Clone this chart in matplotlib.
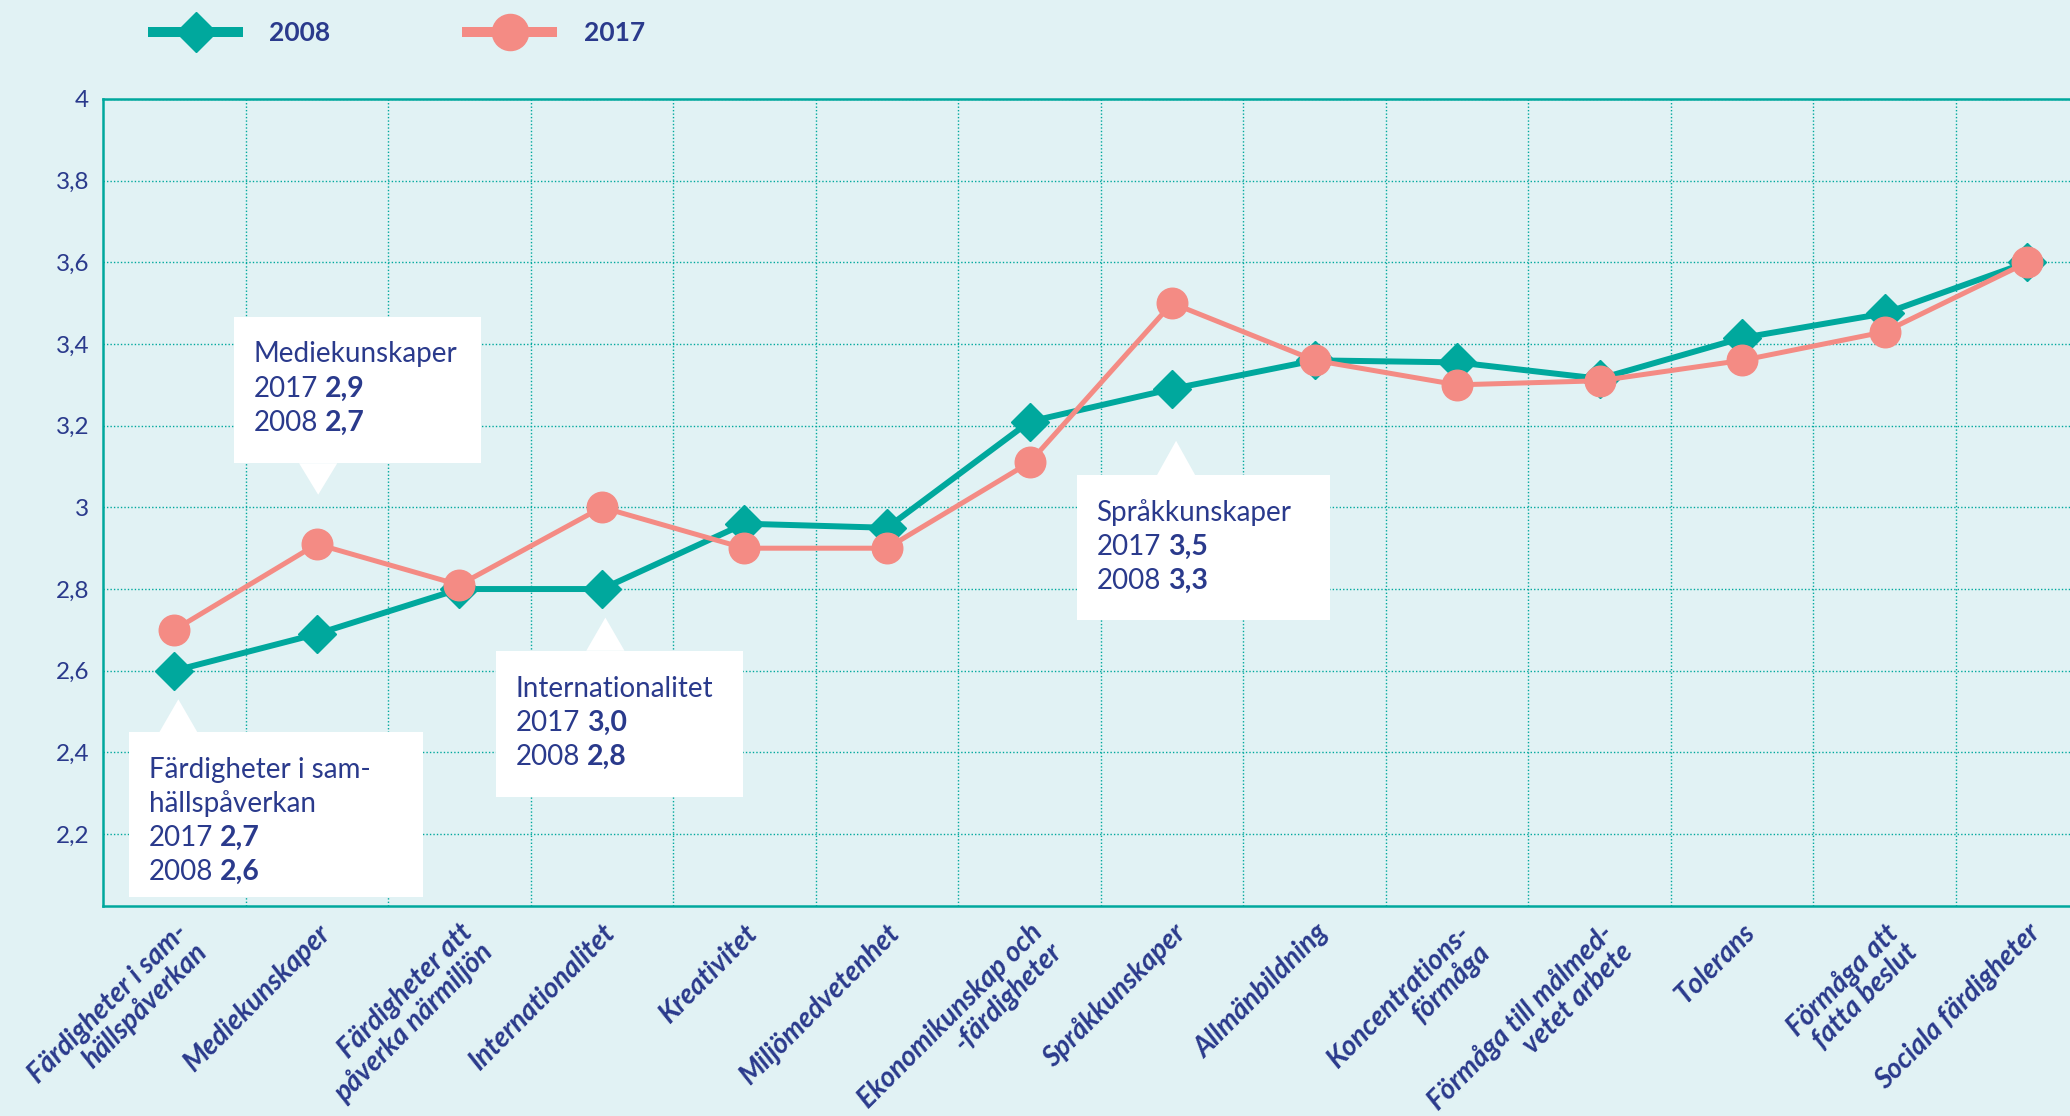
import numpy as np
import matplotlib.pyplot as plt
from matplotlib.lines import Line2D
from matplotlib.patches import Rectangle, Polygon

plt.rcParams['font.family'] = ['Lato', 'DejaVu Sans']

categories = [
    "Färdigheter i sam-\nhällspåverkan",
    "Mediekunskaper",
    "Färdigheter att\npåverka närmiljön",
    "Internationalitet",
    "Kreativitet",
    "Miljömedvetenhet",
    "Ekonomikunskap och\n-färdigheter",
    "Språkkunskaper",
    "Allmänbildning",
    "Koncentrations-\nförmåga",
    "Förmåga till målmed-\nvetet arbete",
    "Tolerans",
    "Förmåga att\nfatta beslut",
    "Sociala färdigheter",
]
values_2008 = [2.60, 2.69, 2.80, 2.80, 2.96, 2.95, 3.21, 3.29, 3.36, 3.355, 3.315, 3.415, 3.475, 3.60]
values_2017 = [2.70, 2.91, 2.81, 3.00, 2.90, 2.90, 3.11, 3.50, 3.36, 3.30, 3.31, 3.36, 3.43, 3.60]

ytick_values = [2.2, 2.4, 2.6, 2.8, 3.0, 3.2, 3.4, 3.6, 3.8, 4.0]
ytick_labels = ["2,2", "2,4", "2,6", "2,8", "3", "3,2", "3,4", "3,6", "3,8", "4"]

callout_titles = ["Färdigheter i sam-\nhällspåverkan", "Mediekunskaper", "Internationalitet", "Språkkunskaper"]
callout_2017 = ["2,7", "2,9", "3,0", "3,5"]
callout_2008 = ["2,6", "2,7", "2,8", "3,3"]

# box (x0, x1, y0, y1), pointer tip (x, y) -- layout only
callout_boxes = [(-0.315, 1.741, 2.045, 2.449), (0.421, 2.148, 3.108, 3.467),
                 (2.259, 3.991, 2.291, 2.649), (6.333, 8.111, 2.724, 3.079)]
callout_tips = [(0.028, 2.530), (1.009, 3.031), (3.024, 2.730), (7.028, 3.163)]

bg = '#e1f2f4'
teal = '#00a89d'
pink = '#f48b84'
navy = '#2a3a8c'

fig = plt.figure(figsize=(20.7, 11.16), dpi=100)
fig.patch.set_facecolor(bg)
ax = fig.add_axes([0.0498, 0.1886, 0.964, 0.7227])
ax.set_facecolor(bg)

x = np.arange(len(categories))
ax.plot(x, values_2008, color=teal, lw=4.3, marker='D', ms=19, zorder=3)
ax.plot(x, values_2017, color=pink, lw=3.6, marker='o', ms=22, zorder=4)

ax.set_xlim(-0.5, len(categories) - 0.5)
ax.set_ylim(2.025, 4.0)

ax.set_yticks(ytick_values)
ax.set_yticklabels(ytick_labels, fontsize=17.5, color=navy)
ax.set_xticks(x)
ax.set_xticklabels(categories, rotation=45, ha='right', va='top', rotation_mode='anchor',
                   multialignment='right', fontsize=20, fontweight='bold',
                   fontstyle='italic', color=navy, linespacing=1.05)
ax.set_xticks(np.arange(0.5, len(categories) - 1, 1), minor=True)
ax.tick_params(axis='both', which='both', length=0)
ax.tick_params(axis='y', pad=10)
ax.tick_params(axis='x', pad=10)

ax.grid(which='minor', axis='x', color=teal, lw=1.0, ls=(0, (1, 1.5)))
ax.grid(which='major', axis='y', color=teal, lw=1.0, ls=(0, (1, 1.5)))
ax.set_axisbelow(True)

for side in ['left', 'bottom', 'top']:
    ax.spines[side].set_color(teal)
    ax.spines[side].set_linewidth(1.8)
ax.spines['right'].set_visible(False)

for title, v17, v08, box, tip in zip(callout_titles, callout_2017, callout_2008,
                                     callout_boxes, callout_tips):
    x0, x1, y0, y1 = box
    ax.add_patch(Rectangle((x0, y0), x1 - x0, y1 - y0, fc='white', ec='none', zorder=5))
    base_y = y1 if tip[1] > y1 else y0
    ax.add_patch(Polygon([tip, (tip[0] - 0.134, base_y), (tip[0] + 0.134, base_y)],
                         closed=True, fc='white', ec='none', zorder=5))
    lines = title.split("\n") + ["2017", "2008"]
    for i, line in enumerate(lines):
        t = ax.annotate(line, xy=(x0, y1), xytext=(14, -33 - 24.5 * i),
                        textcoords='offset points', ha='left', va='baseline',
                        fontsize=20, color=navy, zorder=6)
        if i >= len(lines) - 2:
            val = v17 if line == "2017" else v08
            ax.annotate(val, xy=(1, 0), xycoords=t, xytext=(5, 0),
                        textcoords='offset points', ha='left', va='bottom',
                        fontsize=20.5, fontweight='bold', color=navy, zorder=6)

handles = [
    Line2D([], [], color=teal, lw=7.2, marker='D', ms=20, solid_capstyle='butt'),
    Line2D([], [], color=pink, lw=7.2, marker='o', ms=26, solid_capstyle='butt'),
]
leg = fig.legend(handles, ["2008", "2017"], loc='center left', bbox_to_anchor=(0.0715, 0.970),
                 ncol=2, frameon=False, borderpad=0, borderaxespad=0, handlelength=3.6,
                 handletextpad=1.0, columnspacing=5.0, prop={'size': 19, 'weight': 'bold'})
for txt in leg.get_texts():
    txt.set_color(navy)

fig.savefig('out.png', dpi=100, facecolor=bg)
